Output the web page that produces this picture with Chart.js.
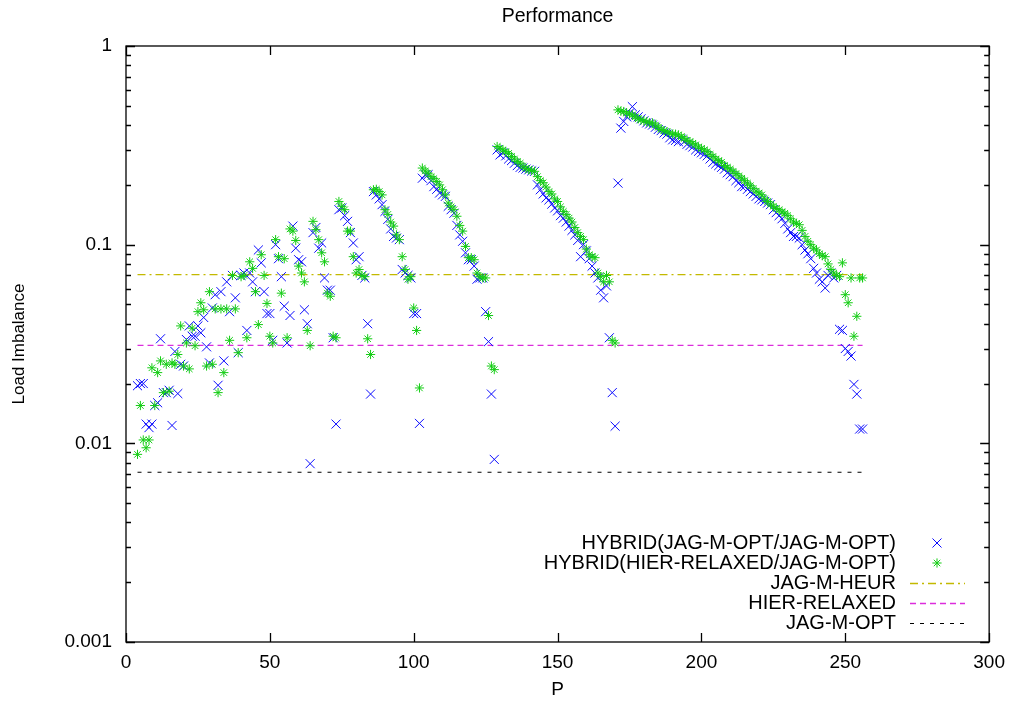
<!DOCTYPE html>
<html>
<head>
<meta charset="utf-8">
<script src="https://cdn.jsdelivr.net/npm/chart.js@4/dist/chart.umd.min.js"></script>
<style>
  html,body{margin:0;padding:0;background:#fff;}
  #wrap{width:1014px;height:705px;}
</style>
</head>
<body>
<div id="wrap"><canvas id="c" width="1014" height="705"></canvas></div>
<script>
// ---------- data ----------
const chartTitle = 'Performance';
const xTitle = 'P';
const yTitle = 'Load Imbalance';
const xTicks = [0, 50, 100, 150, 200, 250, 300];
const yTicks = [0.001, 0.01, 0.1, 1];
const yTickLabels = ['0.001', '0.01', '0.1', '1'];

const pValues = [
  4,5,6,7,8,9,10,11,12,13, 14,15,16,17,18,19,20,21,22,23,
  24,25,26,27,28,29,30,31,32,33, 34,35,36,37,38,39,40,41,42,43,
  44,45,46,47,48,49,50,51,52,53, 54,55,56,57,58,59,60,61,62,63,
  64,65,66,67,68,69,70,71,72,73, 74,75,76,77,78,79,80,81,82,83,
  84,85,86,87,88,89,90,91,92,93, 94,95,96,97,98,99,100,101,102,103,
  104,105,106,107,108,109,110,111,112,113, 114,115,116,117,118,119,120,121,122,123,
  124,125,126,127,128,129,130,131,132,133, 134,135,136,137,138,139,140,141,142,143,
  144,145,146,147,148,149,150,151,152,153, 154,155,156,157,158,159,160,161,162,163,
  164,165,166,167,168,169,170,171,172,173, 174,175,176,177,178,179,180,181,182,183,
  184,185,186,187,188,189,190,191,192,193, 194,195,196,197,198,199,200,201,202,203,
  204,205,206,207,208,209,210,211,212,213, 214,215,216,217,218,219,220,221,222,223,
  224,225,226,227,228,229,230,231,232,233, 234,235,236,237,238,239,240,241,242,243,
  244,245,246,247,248,249,250,251,252,253, 254,255,256
];

// HYBRID(JAG-M-OPT/JAG-M-OPT)
const hybridOptValues = [
  0.0195,0.020,0.020,0.0125,0.012,0.0125,0.0155,0.016,0.0336,0.018,
  0.018,0.0185,0.0123,0.029,0.0178,0.025,0.0245,0.0333,0.039,0.0346,
  0.0346,0.039,0.036,0.043,0.0306,0.0254,0.048,0.056,0.0196,0.058,
  0.026,0.065,0.046,0.07,0.054,0.0286,0.07,0.072,0.037,0.072,
  0.065,0.058,0.094,0.081,0.058,0.045,0.045,0.033,0.100,0.085,
  0.069,0.049,0.032,0.044,0.124,0.096,0.084,0.082,0.047,0.040,
  0.0079,0.115,0.122,0.096,0.102,0.068,0.059,0.059,0.034,0.0125,
  0.15,0.153,0.14,0.131,0.115,0.102,0.084,0.087,0.07,0.068,
  0.040,0.0177,0.185,0.178,0.17,0.159,0.147,0.134,0.12,0.110,
  0.108,0.106,0.075,0.072,0.070,0.068,0.045,0.045,0.0126,0.216,
  0.225,0.225,0.21,0.196,0.19,0.182,0.178,0.175,0.156,0.15,
  0.144,0.125,0.112,0.104,0.091,0.084,0.084,0.078,0.067,0.068,
  0.068,0.046,0.0325,0.0177,0.0083,0.30,0.283,0.29,0.28,0.27,
  0.265,0.257,0.25,0.245,0.243,0.24,0.238,0.235,0.234,0.20,
  0.189,0.18,0.172,0.168,0.16,0.153,0.148,0.14,0.136,0.13,
  0.124,0.118,0.112,0.105,0.087,0.100,0.093,0.085,0.078,0.072,
  0.068,0.059,0.054,0.062,0.034,0.018,0.0122,0.204,0.386,0.417,
  0.44,0.46,0.495,0.45,0.44,0.43,0.42,0.41,0.405,0.40,
  0.39,0.38,0.375,0.365,0.36,0.345,0.337,0.335,0.33,0.34,
  0.33,0.32,0.315,0.31,0.30,0.295,0.29,0.285,0.28,0.27,
  0.26,0.255,0.25,0.245,0.24,0.23,0.225,0.22,0.21,0.205,
  0.196,0.196,0.19,0.185,0.18,0.175,0.17,0.168,0.165,0.162,
  0.159,0.15,0.145,0.14,0.135,0.128,0.12,0.115,0.11,0.11,
  0.108,0.1,0.094,0.09,0.085,0.076,0.072,0.067,0.065,0.0605,
  0.07,0.072,0.068,0.07,0.0375,0.037,0.030,0.029,0.0275,0.0198,
  0.0177,0.0118,0.0118
];

// HYBRID(HIER-RELAXED/JAG-M-OPT)
const hybridRelaxedValues = [
  0.0088,0.0155,0.0104,0.0095,0.0104,0.024,0.0155,0.0227,0.026,0.018,
  0.025,0.0183,0.0254,0.025,0.028,0.039,0.0245,0.032,0.0237,0.038,
  0.031,0.046,0.051,0.047,0.0245,0.058,0.025,0.0475,0.018,0.0475,
  0.0227,0.0475,0.033,0.07,0.0475,0.0286,0.069,0.07,0.034,0.082,
  0.076,0.058,0.0396,0.089,0.07,0.0506,0.0346,0.032,0.106,0.087,
  0.057,0.085,0.034,0.12,0.117,0.105,0.078,0.072,0.065,0.037,
  0.031,0.131,0.119,0.106,0.091,0.082,0.057,0.055,0.0346,0.034,
  0.165,0.156,0.15,0.117,0.117,0.087,0.072,0.075,0.07,0.069,
  0.0336,0.028,0.189,0.19,0.185,0.178,0.15,0.142,0.13,0.124,
  0.112,0.106,0.087,0.075,0.067,0.069,0.048,0.037,0.019,0.243,
  0.235,0.229,0.22,0.215,0.208,0.20,0.189,0.178,0.162,0.155,
  0.150,0.139,0.125,0.117,0.098,0.086,0.086,0.084,0.072,0.069,
  0.068,0.068,0.044,0.0245,0.0235,0.312,0.306,0.30,0.294,0.288,
  0.278,0.27,0.262,0.257,0.248,0.242,0.238,0.236,0.234,0.22,
  0.21,0.205,0.195,0.185,0.18,0.17,0.165,0.155,0.147,0.142,
  0.136,0.13,0.122,0.115,0.11,0.106,0.095,0.089,0.087,0.086,
  0.072,0.069,0.065,0.07,0.065,0.033,0.032,0.477,0.47,0.468,
  0.46,0.455,0.45,0.44,0.43,0.425,0.42,0.415,0.41,0.41,
  0.40,0.39,0.38,0.375,0.37,0.365,0.36,0.36,0.357,0.35,
  0.343,0.335,0.33,0.324,0.318,0.31,0.305,0.30,0.294,0.285,
  0.278,0.27,0.265,0.26,0.25,0.245,0.24,0.234,0.228,0.222,
  0.216,0.21,0.204,0.198,0.192,0.186,0.182,0.178,0.17,0.165,
  0.16,0.156,0.152,0.15,0.146,0.144,0.14,0.135,0.13,0.128,
  0.126,0.118,0.11,0.104,0.10,0.096,0.094,0.09,0.088,0.087,
  0.08,0.075,0.072,0.07,0.069,0.081,0.056,0.051,0.068,0.0346,
  0.0436,0.068,0.068
];

// constant reference levels
const lineRange = [4, 256];
const jagMHeurValue = 0.0707;
const hierRelaxedValue = 0.0311;
const jagMOptValue = 0.00715;

const seriesLabels = [
  'HYBRID(JAG-M-OPT/JAG-M-OPT)',
  'HYBRID(HIER-RELAXED/JAG-M-OPT)',
  'JAG-M-HEUR',
  'HIER-RELAXED',
  'JAG-M-OPT'
];

// ---------- chart ----------
const FONT = "'Liberation Sans', Arial, Helvetica, sans-serif";
const pts = vals => pValues.map((p, i) => ({x: p, y: vals[i]}));
const hline = v => [{x: lineRange[0], y: v}, {x: lineRange[1], y: v}];

const datasets = [
  {label: seriesLabels[0], data: pts(hybridOptValues), showLine: false,
   pointStyle: 'crossRot', pointRadius: 6.4, pointBorderWidth: 1,
   borderColor: 'rgb(10,10,255)', backgroundColor: 'rgb(10,10,255)', order: 1},
  {label: seriesLabels[1], data: pts(hybridRelaxedValues), showLine: false,
   pointStyle: 'star', pointRadius: 4.6, pointBorderWidth: 1,
   borderColor: 'rgb(20,205,20)', backgroundColor: 'rgb(20,205,20)', order: 0},
  {label: seriesLabels[2], data: hline(jagMHeurValue), showLine: true, pointRadius: 0,
   borderColor: 'rgb(195,185,0)', borderWidth: 1.3, borderDash: [8,4,2,4], order: 2},
  {label: seriesLabels[3], data: hline(hierRelaxedValue), showLine: true, pointRadius: 0,
   borderColor: 'rgb(220,45,220)', borderWidth: 1.3, borderDash: [6,4], order: 3},
  {label: seriesLabels[4], data: hline(jagMOptValue), showLine: true, pointRadius: 0,
   borderColor: 'rgb(0,0,0)', borderWidth: 1.1, borderDash: [4,6], order: 4}
];

function drawMarker(ctx, style, x, y, r) {
  ctx.beginPath();
  if (style === 'crossRot' || style === 'star') {
    const d = r * Math.SQRT1_2;
    ctx.moveTo(x - d, y - d); ctx.lineTo(x + d, y + d);
    ctx.moveTo(x - d, y + d); ctx.lineTo(x + d, y - d);
  }
  if (style === 'star') {
    ctx.moveTo(x - r, y); ctx.lineTo(x + r, y);
    ctx.moveTo(x, y - r); ctx.lineTo(x, y + r);
  }
  ctx.stroke();
}

const framePlugin = {
  id: 'frame',
  afterDraw(chart) {
    const {ctx, chartArea: a, scales: {x, y}} = chart;
    ctx.save();
    ctx.strokeStyle = '#000';
    ctx.lineWidth = 1.3;
    ctx.setLineDash([]);
    // inward ticks
    ctx.beginPath();
    xTicks.forEach(v => {
      const px = Math.round(x.getPixelForValue(v)) + 0.5;
      ctx.moveTo(px, a.bottom); ctx.lineTo(px, a.bottom - 9);
      ctx.moveTo(px, a.top); ctx.lineTo(px, a.top + 9);
    });
    for (let d = 0; d < yTicks.length; d++) {
      const base = yTicks[d];
      const pm = Math.round(y.getPixelForValue(base)) + 0.5;
      ctx.moveTo(a.left, pm); ctx.lineTo(a.left + 9, pm);
      ctx.moveTo(a.right, pm); ctx.lineTo(a.right - 9, pm);
      if (d < yTicks.length - 1) {
        for (let k = 2; k <= 9; k++) {
          const pk = Math.round(y.getPixelForValue(base * k)) + 0.5;
          ctx.moveTo(a.left, pk); ctx.lineTo(a.left + 5, pk);
          ctx.moveTo(a.right, pk); ctx.lineTo(a.right - 5, pk);
        }
      }
    }
    ctx.stroke();
    ctx.strokeRect(a.left, a.top, a.right - a.left, a.bottom - a.top);

    // legend (gnuplot style, inside bottom right)
    const textRight = 896, sx0 = 910, sx1 = 965, sxm = 937;
    const rows = [543, 563, 583, 603, 623];
    ctx.font = '20px ' + FONT;
    ctx.textAlign = 'right';
    ctx.textBaseline = 'middle';
    ctx.fillStyle = '#000';
    chart.data.datasets.forEach((ds, i) => {
      const yy = rows[i];
      ctx.fillText(ds.label, textRight, yy);
      ctx.strokeStyle = ds.borderColor;
      ctx.lineWidth = ds.showLine ? ds.borderWidth : 1;
      if (ds.showLine) {
        ctx.setLineDash(ds.borderDash || []);
        ctx.beginPath();
        ctx.moveTo(sx0, yy + 0.5); ctx.lineTo(sx1, yy + 0.5);
        ctx.stroke();
        ctx.setLineDash([]);
      } else {
        drawMarker(ctx, ds.pointStyle, sxm, yy, ds.pointRadius);
      }
    });
    ctx.restore();
  }
};

new Chart(document.getElementById('c'), {
  type: 'scatter',
  data: {datasets},
  options: {
    responsive: false,
    animation: false,
    devicePixelRatio: 1,
    layout: {padding: {left: 0, right: 24, top: 0, bottom: 0}},
    plugins: {
      legend: {display: false},
      tooltip: {enabled: false},
      title: {
        display: true, text: chartTitle, color: '#000', fullSize: false,
        font: {family: FONT, size: 19.5, weight: 'normal'},
        padding: {top: 5, bottom: 17.6}
      }
    },
    scales: {
      x: {
        type: 'linear', min: 0, max: 300,
        grid: {display: false, drawTicks: false},
        border: {display: false},
        ticks: {stepSize: 50, color: '#000', padding: 9, font: {family: FONT, size: 19}},
        afterBuildTicks: s => { s.ticks = xTicks.map(v => ({value: v})); },
        afterFit: s => { s.height = 63; },
        title: {display: true, text: xTitle, color: '#000',
                font: {family: FONT, size: 19}, padding: {top: 0, bottom: 4}}
      },
      y: {
        type: 'logarithmic', min: 0.001, max: 1,
        grid: {display: false, drawTicks: false},
        border: {display: false},
        ticks: {color: '#000', padding: 14, autoSkip: false, font: {family: FONT, size: 19},
                callback: (v) => { const i = yTicks.findIndex(t => Math.abs(t - v) < t * 1e-6); return i >= 0 ? yTickLabels[i] : ''; }},
        afterBuildTicks: s => { s.ticks = yTicks.map(v => ({value: v})); },
        afterFit: s => { s.width = 126; },
        title: {display: true, text: yTitle, color: '#000',
                font: {family: FONT, size: 17}, padding: {top: 9, bottom: 0}}
      }
    }
  },
  plugins: [framePlugin]
});
</script>
</body>
</html>
